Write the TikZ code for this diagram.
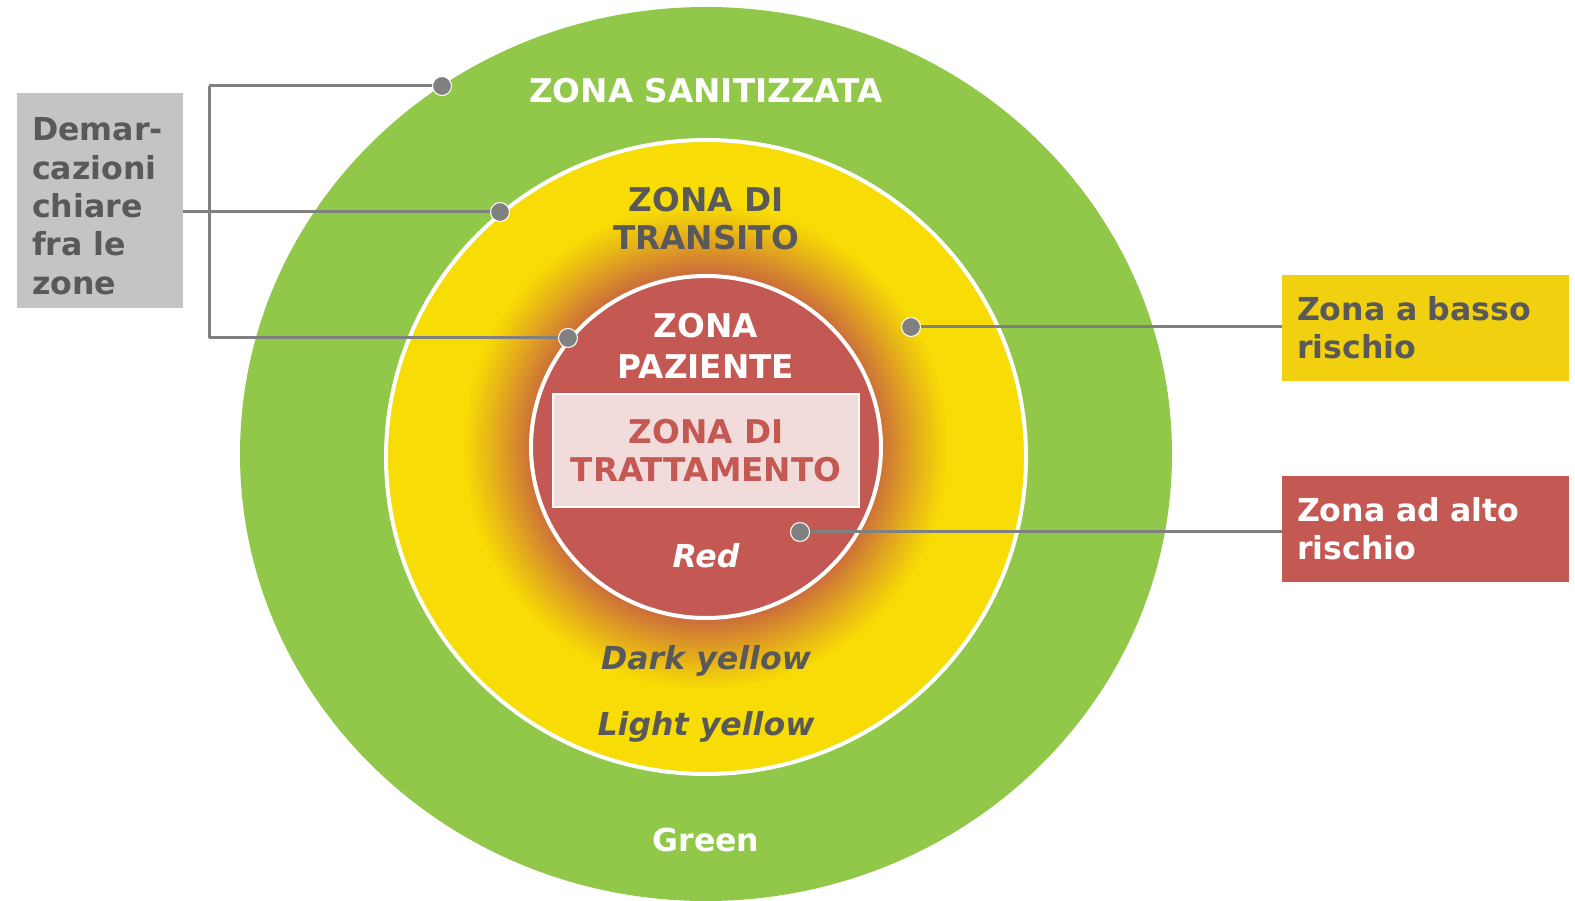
\documentclass[tikz,border=0pt]{standalone}
\usepackage{fontspec}
\setmainfont{DejaVu Sans}
\usetikzlibrary{positioning}
\definecolor{zgreen}{HTML}{92C84A}
\definecolor{zyellow}{HTML}{F7DC05}
\definecolor{zred}{HTML}{C45853}
\definecolor{zpink}{HTML}{F2DCDB}
\definecolor{ztext}{HTML}{595959}
\definecolor{zgrey}{HTML}{C4C4C4}
\definecolor{zbox}{HTML}{F1D00F}
\definecolor{zline}{HTML}{808080}
\definecolor{glowA}{HTML}{CD7039}
\tikzset{
  zone/.style={font=\bfseries\fontsize{18.6}{21.6}\selectfont, align=center, inner sep=0pt},
  tag/.style={font=\bfseries\itshape\fontsize{18}{21.6}\selectfont, text height=13.1pt, text depth=0pt, inner sep=0pt},
  legend/.style={font=\bfseries\fontsize{18}{21.8}\selectfont, align=left, inner xsep=0.3cm, inner ysep=0pt},
  conn/.style={draw=zline, line width=0.06cm},
  pin/.style={circle, fill=zline, draw=white, line width=0.6pt, inner sep=0pt, minimum size=0.38cm},
}

\begin{document}
\begin{tikzpicture}[x=0.02cm, y=-0.02cm]
\useasboundingbox (0,0) rectangle (1575,901);

% the three zones
\fill[zgreen] (706,454) ellipse [x radius=466, y radius=447];
\draw[fill=zyellow, draw=white, line width=0.08cm] (706,457) ellipse [x radius=320, y radius=317];
% orange glow round the patient zone
\foreach \r in {244,242,...,176}{
  \pgfmathsetmacro\p{100*((244-\r)/68)^1.1}
  \fill[glowA!\p!zyellow] (706,447) circle [radius=\r];
}
\draw[fill=zred, draw=white, line width=0.08cm] (706,447) ellipse [x radius=175, y radius=171];

\node[zone, fill=zpink, draw=white, line width=1.2pt, text=zred, minimum width=6.12cm, minimum height=2.26cm] (tratt) at (706,450.5) {ZONA DI\\TRATTAMENTO};

\node[zone, text=white] (sanit) at (706,91) {ZONA SANITIZZATA};
\node[zone, text=ztext] (transito) at (706,219) {ZONA DI\\TRANSITO};
\node[zone, text=white, font=\bfseries\fontsize{18.6}{23.3}\selectfont] (paziente) at (706,345.5) {ZONA\\PAZIENTE};
\node[tag, text=white] (redtag) at (706,556) {Red};
\node[tag, text=ztext] (darktag) at (706,658) {Dark yellow};
\node[tag, text=ztext] (lighttag) at (706,724) {Light yellow};
\node[tag, text=white, font=\bfseries\fontsize{18}{21.6}\selectfont] (greentag) at (706,840) {Green};

% legend boxes
\node[legend, fill=zgrey, text=ztext, text width=2.72cm, minimum height=4.3cm] (demarc) at (100,200.5) {\rule{0pt}{19.6pt}Demar-\\cazioni\\chiare\\fra le\\zone};
\node[legend, fill=zbox, text=ztext, text width=5.14cm, minimum height=2.12cm] (basso) at (1425.5,328) {Zona a basso\\rischio};
\node[legend, fill=zred, text=white, text width=5.14cm, minimum height=2.12cm] (alto) at (1425.5,529) {Zona ad alto\\rischio};

% pins and leader lines
\coordinate (pSan) at (442,86);
\coordinate (pTra) at (500,212);
\coordinate (pPaz) at (568,338);
\coordinate (pBasso) at (911,327);
\coordinate (pAlto) at (800,532);
\coordinate (brk) at (209,212);

\draw[conn] (brk |- pSan) -- (brk |- pPaz);
\draw[conn] (brk |- pSan) -- (pSan);
\draw[conn] (demarc.east |- pTra) -- (pTra);
\draw[conn] (brk |- pPaz) -- (pPaz);
\draw[conn] (pBasso) -- (pBasso -| basso.west);
\draw[conn] (pAlto) -- (pAlto -| alto.west);

\foreach \p in {pSan,pTra,pPaz,pBasso,pAlto}
  \node[pin] at (\p) {};
\end{tikzpicture}
\end{document}
